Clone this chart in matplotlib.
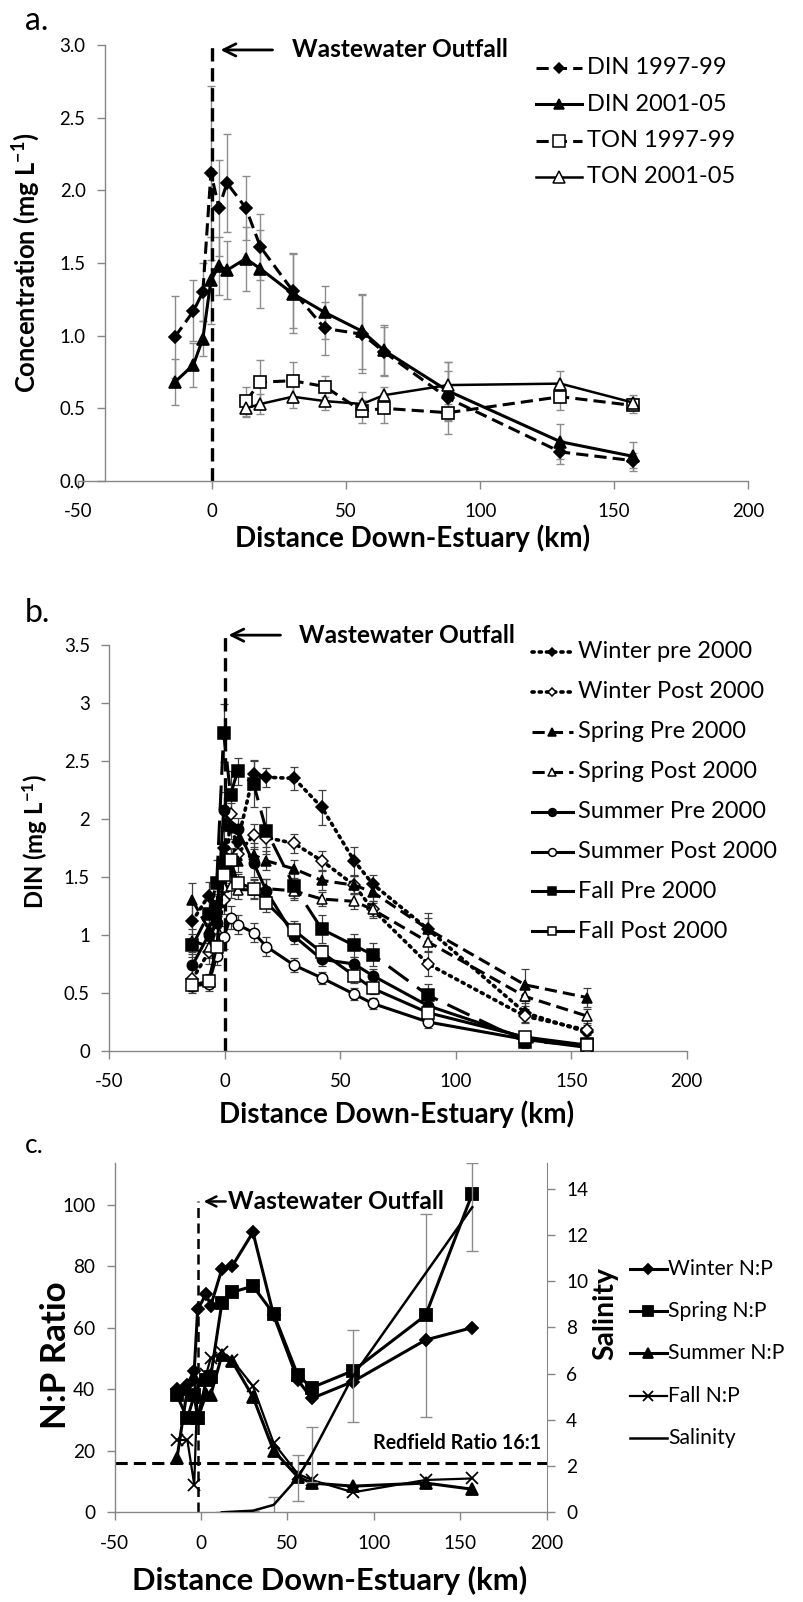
import matplotlib
matplotlib.use('Agg')
import matplotlib.pyplot as plt
from matplotlib.ticker import FormatStrFormatter
from matplotlib.lines import Line2D

plt.rcParams['font.family'] = ['Lato', 'DejaVu Sans']
plt.rcParams['axes.unicode_minus'] = False
plt.rcParams['mathtext.fontset'] = 'custom'
plt.rcParams['mathtext.rm'] = 'Lato'
plt.rcParams['mathtext.bf'] = 'Lato:bold'
plt.rcParams['mathtext.default'] = 'bf'

# ---------------- panel a data ----------------
km_din = [-14, -7, -3.5, -0.5, 2.5, 5.5, 12.5, 18, 30, 42, 56, 64, 88, 130, 157]
din_9799 = [0.99, 1.17, 1.30, 2.12, 1.88, 2.05, 1.88, 1.61, 1.31, 1.05, 1.01, 0.89, 0.57, 0.20, 0.14]
din_9799_err = [0.28, 0.21, 0.20, 0.60, 0.33, 0.34, 0.22, 0.23, 0.26, 0.18, 0.27, 0.17, 0.25, 0.08, 0.05]
din_0105 = [0.68, 0.80, 0.98, 1.38, 1.48, 1.45, 1.53, 1.46, 1.29, 1.16, 1.03, 0.90, 0.62, 0.27, 0.17]
din_0105_err = [0.16, 0.15, 0.12, 0.30, 0.20, 0.20, 0.22, 0.27, 0.27, 0.18, 0.26, 0.17, 0.20, 0.12, 0.10]
km_ton = [12.5, 18, 30, 42, 56, 64, 88, 130, 157]
ton_9799 = [0.55, 0.68, 0.69, 0.65, 0.48, 0.50, 0.47, 0.58, 0.52]
ton_9799_err = [0.10, 0.15, 0.13, 0.07, 0.08, 0.10, 0.06, 0.09, 0.05]
ton_0105 = [0.50, 0.53, 0.58, 0.55, 0.53, 0.59, 0.66, 0.67, 0.54]
ton_0105_err = [0.06, 0.07, 0.08, 0.06, 0.08, 0.06, 0.10, 0.09, 0.05]
labels_a = ['DIN 1997-99', 'DIN 2001-05', 'TON 1997-99', 'TON 2001-05']

# ---------------- panel b data ----------------
km_b = [-14, -7, -3.5, -0.5, 2.5, 5.5, 12.5, 18, 30, 42, 56, 64, 88, 130, 157]
winter_pre = [1.12, 1.34, 1.25, 1.75, 1.62, 1.80, 2.39, 2.36, 2.35, 2.10, 1.64, 1.44, 1.05, 0.33, 0.16]
winter_post = [0.62, 0.85, 0.98, 1.30, 2.04, 1.70, 1.86, 1.84, 1.79, 1.64, 1.43, 1.22, 0.75, 0.30, 0.18]
spring_pre = [1.30, 1.05, 1.20, 1.67, 1.55, 1.64, 1.69, 1.64, 1.57, 1.47, 1.43, 1.37, 1.05, 0.57, 0.46]
spring_post = [0.95, 0.90, 1.05, 1.41, 1.42, 1.39, 1.39, 1.40, 1.38, 1.31, 1.29, 1.22, 0.94, 0.47, 0.30]
summer_pre = [0.74, 1.00, 1.10, 2.08, 1.93, 1.91, 1.62, 1.38, 0.99, 0.79, 0.75, 0.65, 0.39, 0.11, 0.04]
summer_post = [0.56, 0.58, 0.82, 0.98, 1.15, 1.09, 1.02, 0.90, 0.74, 0.63, 0.49, 0.41, 0.25, 0.10, 0.03]
fall_pre = [0.91, 1.18, 1.45, 2.74, 2.21, 2.41, 2.30, 1.90, 1.42, 1.05, 0.91, 0.83, 0.48, 0.08, 0.06]
fall_post = [0.57, 0.60, 0.90, 1.52, 1.65, 1.45, 1.40, 1.28, 1.04, 0.85, 0.65, 0.54, 0.33, 0.12, 0.05]
winter_pre_err = [0.15, 0.12, 0.10, 0.15, 0.12, 0.12, 0.12, 0.08, 0.10, 0.15, 0.12, 0.08, 0.14, 0.08, 0.05]
winter_post_err = [0.10, 0.10, 0.08, 0.12, 0.10, 0.10, 0.10, 0.08, 0.08, 0.08, 0.08, 0.07, 0.10, 0.06, 0.04]
spring_pre_err = [0.15, 0.12, 0.10, 0.12, 0.10, 0.10, 0.10, 0.08, 0.08, 0.08, 0.08, 0.08, 0.10, 0.14, 0.08]
spring_post_err = [0.10, 0.10, 0.08, 0.10, 0.10, 0.08, 0.08, 0.08, 0.06, 0.06, 0.07, 0.06, 0.08, 0.08, 0.06]
summer_pre_err = [0.10, 0.10, 0.08, 0.15, 0.10, 0.10, 0.12, 0.10, 0.07, 0.06, 0.06, 0.06, 0.06, 0.04, 0.03]
summer_post_err = [0.06, 0.06, 0.08, 0.10, 0.10, 0.08, 0.08, 0.08, 0.06, 0.05, 0.05, 0.05, 0.05, 0.04, 0.03]
fall_pre_err = [0.10, 0.15, 0.20, 0.25, 0.20, 0.12, 0.20, 0.20, 0.12, 0.12, 0.10, 0.10, 0.10, 0.05, 0.03]
fall_post_err = [0.05, 0.06, 0.08, 0.12, 0.10, 0.08, 0.08, 0.08, 0.08, 0.06, 0.06, 0.05, 0.05, 0.04, 0.03]
labels_b = ['Winter pre 2000', 'Winter Post 2000', 'Spring Pre 2000', 'Spring Post 2000',
            'Summer Pre 2000', 'Summer Post 2000', 'Fall Pre 2000', 'Fall Post 2000']

# ---------------- panel c data ----------------
km_np = [-14, -8, -4, -2, 3, 5.5, 12, 18, 30, 42, 56, 64, 88, 130, 157]
winter_np = [40, 41.5, 46, 66, 71, 67, 79, 80, 91, 64, 43, 37, 42.5, 56, 60]
spring_np = [38, 30.5, 38, 30.5, 43, 44, 68, 71.5, 73.5, 64.5, 44.5, 40.5, 46, 64, 103.5]
spring_np_err = [0, 0, 0, 0, 0, 0, 0, 0, 0, 0, 0, 0, 0, 33, 0]
summer_np = [17.5, 40, 44, 30.5, 38.5, 38, 51, 49, 37.5, 20, 11.5, 9.5, 8.5, 9.5, 7.5]
fall_np = [23.5, 23.5, 9, 43, 45, 50, 52, 49.5, 41, 22.5, 12.5, 10.5, 6.5, 10.5, 11]
km_sal = [12, 30, 42, 56, 64, 88, 157]
salinity = [0, 0.07, 0.32, 1.5, 2.5, 5.9, 13.2]
salinity_err = [0, 0, 0.36, 1.0, 1.2, 2.0, 1.9]
labels_c = ['Winter N:P', 'Spring N:P', 'Summer N:P', 'Fall N:P', 'Salinity']
redfield = 16
outfall_a, outfall_b, outfall_c = 0, 0, -1.6

W, H = 804, 1602
fig = plt.figure(figsize=(W / 100, H / 100), dpi=100)
renderer = fig.canvas.get_renderer()
GREY = '#868686'
ERRC = '#8c8c8c'


def fit(s, target, weight='normal', ref=20.0):
    t = fig.text(0, 0, s, fontsize=ref, fontweight=weight)
    w = t.get_window_extent(renderer).width
    t.remove()
    return ref * target / w


FS_OUT = fit('Wastewater Outfall', 216, 'bold')
FS_XAB = fit('Distance Down-Estuary (km)', 355, 'bold')
FS_XC = fit('Distance Down-Estuary (km)', 395, 'bold')
FS_LEG = fit('Winter pre 2000', 175)
FS_LEGC = fit('Winter N:P', 105)
FS_RED = fit('Redfield Ratio 16:1', 168, 'bold')
FS_NP = fit('N:P Ratio', 148, 'bold')
FS_SAL = fit('Salinity', 93, 'bold')
FS_YA = fit('Concentration (mg L-1)', 262, 'bold')
FS_YB = fit('DIN (mg L-1)', 136, 'bold')
FS_TAB = fit('3.5', 26)
FS_TC = fit('100', 33)


def box(l, r, t, b):
    return [l / W, 1 - b / H, (r - l) / W, (b - t) / H]


def style(ax, size):
    for s in ['top', 'right']:
        ax.spines[s].set_visible(False)
    for s in ['left', 'bottom']:
        ax.spines[s].set_color(GREY)
        ax.spines[s].set_linewidth(1)
    ax.tick_params(direction='out', length=6, width=1, color=GREY, labelsize=size)
    ax.tick_params(axis='y', pad=8)
    ax.tick_params(axis='x', pad=10)


def legend_entry(x0, x1, xt, y, ls, lw, marker, ms, mfc, label, fs, mew=1.1):
    yf = 1 - y / H
    fig.add_artist(Line2D([x0 / W, x1 / W], [yf, yf], transform=fig.transFigure,
                          color='k', lw=lw, ls=ls, dash_capstyle='round' if ls == DOT else 'butt'))
    if marker:
        fig.add_artist(Line2D([(x0 + x1) / 2 / W], [yf], transform=fig.transFigure, ls='none',
                              marker=marker, ms=ms, mfc=mfc, mec='k', mew=mew))
    fig.text(xt / W, yf, label, fontsize=fs, ha='left', va='center')


DASH = (0, (4, 2))
LDASH = (0, (8, 3.5))
DOT = (0, (0.6, 1.4))
ARROW = dict(arrowstyle='->', lw=2, color='k', shrinkA=0, shrinkB=0, mutation_scale=22)

# ================= panel a =================
axA = fig.add_axes(box(78.3, 748, 45, 481))
style(axA, FS_TAB)
axA.set_xlim(-50, 200)
axA.set_ylim(0, 3.0)
axA.spines['left'].set_position(('data', -40))
axA.set_xticks([-50, 0, 50, 100, 150, 200])
axA.set_yticks([0, 0.5, 1.0, 1.5, 2.0, 2.5, 3.0])
axA.yaxis.set_major_formatter(FormatStrFormatter('%.1f'))
axA.axvline(outfall_a, color='k', lw=2.4, ls=DASH, zorder=2)

ebkw = dict(fmt='none', ecolor=ERRC, elinewidth=1, capsize=3, capthick=1, zorder=1)
axA.errorbar(km_din, din_9799, yerr=din_9799_err, **ebkw)
axA.errorbar(km_din, din_0105, yerr=din_0105_err, **ebkw)
axA.errorbar(km_ton, ton_9799, yerr=ton_9799_err, **ebkw)
axA.errorbar(km_ton, ton_0105, yerr=ton_0105_err, **ebkw)
styles_a = [(DASH, 2.2, 'D', 6, 'k'), ('-', 2.2, '^', 8, 'k'),
            (DASH, 2.2, 's', 9, 'white'), ('-', 1.8, '^', 9, 'white')]
for (xs, ys), (ls, lw, mk, ms, fc) in zip([(km_din, din_9799), (km_din, din_0105),
                                           (km_ton, ton_9799), (km_ton, ton_0105)], styles_a):
    axA.plot(xs, ys, ls=ls, lw=lw, color='k', marker=mk, ms=ms, mfc=fc, mew=1.2, zorder=3)
for i, ((ls, lw, mk, ms, fc), lab) in enumerate(zip(styles_a, labels_a)):
    legend_entry(536, 582, 587, 68 + 36.3 * i, ls, lw, mk, ms * 0.9, fc, lab, FS_LEG)

axA.annotate('', xy=(3.1, 2.966), xytext=(22.5, 2.966), arrowprops=ARROW, annotation_clip=False)
axA.text(29.9, 2.966, 'Wastewater Outfall', fontsize=FS_OUT, fontweight='bold', ha='left', va='center')

fig.text(25 / W, 1 - 30 / H, 'a.', fontsize=23, ha='left', va='baseline')
fig.text(413 / W, 1 - 547 / H, 'Distance Down-Estuary (km)', fontsize=FS_XAB, fontweight='bold',
         ha='center', va='baseline')
fig.text(26 / W, 1 - 263 / H, 'Concentration (mg L$^{-1}$)', fontsize=FS_YA, fontweight='bold',
         ha='center', va='center', rotation=90)

# ================= panel b =================
axB = fig.add_axes(box(109.3, 686.8, 645, 1051))
style(axB, FS_TAB)
axB.set_xlim(-50, 200)
axB.set_ylim(0, 3.5)
axB.set_xticks([-50, 0, 50, 100, 150, 200])
axB.set_yticks([0, 0.5, 1, 1.5, 2, 2.5, 3, 3.5])
axB.set_yticklabels(['0', '0.5', '1', '1.5', '2', '2.5', '3', '3.5'])
axB.plot([outfall_b, outfall_b], [0, 3.57], color='k', lw=2.4, ls=DASH, zorder=2, clip_on=False)

ebkwb = dict(fmt='none', ecolor='#404040', elinewidth=0.9, capsize=3, capthick=0.9, zorder=1)
series_b = [
    (winter_pre, winter_pre_err, DOT, 'D', 'k', 6),
    (winter_post, winter_post_err, DOT, 'D', 'white', 6),
    (spring_pre, spring_pre_err, DASH, '^', 'k', 7.5),
    (spring_post, spring_post_err, DASH, '^', 'white', 7.5),
    (summer_pre, summer_pre_err, '-', 'o', 'k', 7.5),
    (summer_post, summer_post_err, '-', 'o', 'white', 7.5),
    (fall_pre, fall_pre_err, LDASH, 's', 'k', 8),
    (fall_post, fall_post_err, '-', 's', 'white', 8),
]
for i, ((vals, errs, ls, mk, fc, ms), lab) in enumerate(zip(series_b, labels_b)):
    axB.errorbar(km_b, vals, yerr=errs, **ebkwb)
    lw = 2.6 if ls == DOT else 2.2
    axB.plot(km_b, vals, ls=ls, lw=lw, color='k', marker=mk, ms=ms, mfc=fc, mew=1.1,
             zorder=3, dash_capstyle='round' if ls == DOT else 'butt')
    lls = '-' if ls == LDASH else ls
    legend_entry(532, 573, 578, 652 + 39.9 * i, lls, lw, mk, ms * 0.75, fc, lab, FS_LEG)

axB.annotate('', xy=(1.6, 3.585), xytext=(24.1, 3.585), arrowprops=ARROW, annotation_clip=False)
axB.text(32.3, 3.585, 'Wastewater Outfall', fontsize=FS_OUT, fontweight='bold', ha='left', va='center')

fig.text(25 / W, 1 - 622 / H, 'b.', fontsize=23, ha='left', va='baseline')
fig.text(397 / W, 1 - 1123 / H, 'Distance Down-Estuary (km)', fontsize=FS_XAB, fontweight='bold',
         ha='center', va='baseline')
fig.text(35 / W, 1 - 842 / H, 'DIN (mg L$^{-1}$)', fontsize=FS_YB, fontweight='bold',
         ha='center', va='center', rotation=90)

# ================= panel c =================
axC = fig.add_axes(box(114.8, 546.5, 1163.3, 1512.3))
style(axC, FS_TC)
axC.set_xlim(-50, 200)
axC.set_ylim(0, 113.4)
axC.set_xticks([-50, 0, 50, 100, 150, 200])
axC.set_yticks([0, 20, 40, 60, 80, 100])
axC.plot([outfall_c, outfall_c], [0, 101], color='k', lw=1.8, ls=(0, (4, 2.2)), zorder=2)
axC.axhline(redfield, color='k', lw=2.2, ls=DASH, zorder=2)

axS = axC.twinx()
axS.set_ylim(0, 15.1)
axS.set_yticks([0, 2, 4, 6, 8, 10, 12, 14])
for s in ['top', 'left', 'bottom']:
    axS.spines[s].set_visible(False)
axS.spines['right'].set_color(GREY)
axS.tick_params(direction='out', length=6, width=1, color=GREY, labelsize=FS_TC, pad=8)

axC.errorbar(km_np, spring_np, yerr=spring_np_err, fmt='none', ecolor=ERRC, elinewidth=1,
             capsize=4, capthick=1, zorder=1)
axS.errorbar(km_sal, salinity, yerr=salinity_err, fmt='none', ecolor=ERRC, elinewidth=1,
             capsize=4, capthick=1, zorder=1)
styles_c = [('-', 2.2, 'D', 6, 'k'), ('-', 2.2, 's', 8.5, 'k'), ('-', 2.2, '^', 8, 'k'),
            ('-', 1.6, 'x', 8, 'k'), ('-', 1.8, None, 0, 'k')]
for ys, (ls, lw, mk, ms, fc) in zip([winter_np, spring_np, summer_np, fall_np], styles_c):
    axC.plot(km_np, ys, ls=ls, lw=lw, color='k', marker=mk, ms=ms, mfc=fc, mew=1.3, zorder=3)
axS.plot(km_sal, salinity, '-', lw=1.8, color='k', zorder=3)
for i, ((ls, lw, mk, ms, fc), lab) in enumerate(zip(styles_c, labels_c)):
    legend_entry(630, 667, 668, 1269 + 42.2 * i, ls, lw, mk, ms * 0.9, fc, lab, FS_LEGC, mew=1.3)

axC.annotate('', xy=(1.45, 101), xytext=(14.2, 101),
             arrowprops=dict(ARROW, lw=1.8, mutation_scale=18), annotation_clip=False)
axC.text(15.4, 101, 'Wastewater Outfall', fontsize=FS_OUT, fontweight='bold', ha='left', va='center')
axC.text(99.5, 22.5, 'Redfield Ratio 16:1', fontsize=FS_RED, fontweight='bold', ha='left', va='center')

fig.text(25 / W, 1 - 1153 / H, 'c.', fontsize=19, ha='left', va='baseline')
fig.text(330 / W, 1 - 1590 / H, 'Distance Down-Estuary (km)', fontsize=FS_XC, fontweight='bold',
         ha='center', va='baseline')
fig.text(56 / W, 1 - 1355 / H, 'N:P Ratio', fontsize=FS_NP, fontweight='bold',
         ha='center', va='center', rotation=90)
fig.text(605 / W, 1 - 1313 / H, 'Salinity', fontsize=FS_SAL, fontweight='bold',
         ha='center', va='center', rotation=90)

fig.savefig('out.png', dpi=100)
